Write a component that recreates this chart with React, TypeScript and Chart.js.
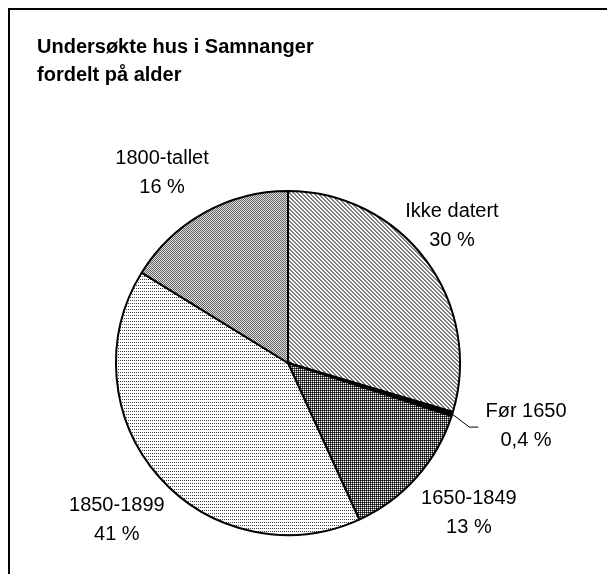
import React, { useEffect, useRef } from "react";
import { Chart, registerables } from "chart.js";

Chart.register(...registerables);

const categories = ["Ikke datert", "Før 1650", "1650-1849", "1850-1899", "1800-tallet"];
const shares = [29.6, 0.4, 13.2, 40.6, 16.2];
const shareLabels = ["30 %", "0,4 %", "13 %", "41 %", "16 %"];
const titleLines = ["Undersøkte hus i Samnanger", "fordelt på alder"];

function makePattern(size: [number, number], draw: (x: number, y: number) => string | null): CanvasPattern | string {
  const c = document.createElement("canvas");
  c.width = size[0];
  c.height = size[1];
  const ctx = c.getContext("2d");
  if (!ctx) return "#aaa";
  for (let y = 0; y < size[1]; y++) {
    for (let x = 0; x < size[0]; x++) {
      const col = draw(x, y);
      if (col) {
        ctx.fillStyle = col;
        ctx.fillRect(x, y, 1, 1);
      }
    }
  }
  const p = ctx.createPattern(c, "repeat");
  return p || "#aaa";
}

// label layout: angle (deg clockwise from top) and distance as a factor of the outer radius
const labelLayout = [
  { angle: 50.2, dist: 1.241 },
  { angle: 104.9, dist: 1.432 },
  { angle: 129.6, dist: 1.365 },
  { angle: 227.4, dist: 1.352 },
  { angle: 326.4, dist: 1.323 },
];

const decorPlugin = {
  id: "decor",
  afterDraw(chart: any) {
    const ctx = chart.ctx;
    ctx.save();
    // frame
    ctx.strokeStyle = "#000";
    ctx.lineWidth = 2;
    ctx.beginPath();
    ctx.moveTo(9, 574);
    ctx.lineTo(9, 9);
    ctx.lineTo(607, 9);
    ctx.stroke();
    // title
    ctx.fillStyle = "#000";
    ctx.font = "bold 20px 'Liberation Sans', Arial, sans-serif";
    ctx.textAlign = "left";
    ctx.textBaseline = "middle";
    titleLines.forEach((t, i) => ctx.fillText(t, 37, 47 + i * 28));

    // slice labels
    const meta = chart.getDatasetMeta(0);
    ctx.font = "20px 'Liberation Sans', Arial, sans-serif";
    ctx.textAlign = "center";
    meta.data.forEach((arc: any, i: number) => {
      const { x, y, outerRadius, startAngle, endAngle } = arc.getProps(
        ["x", "y", "outerRadius", "startAngle", "endAngle"],
        true
      );
      const lay = labelLayout[i];
      const a = (lay.angle * Math.PI) / 180;
      const cx = x + Math.sin(a) * outerRadius * lay.dist;
      const cy = y - Math.cos(a) * outerRadius * lay.dist;
      ctx.fillText(categories[i], cx, cy - 14.5);
      ctx.fillText(shareLabels[i], cx, cy + 14.5);
      if (shares[i] < 1) {
        const mid = (startAngle + endAngle) / 2;
        const sx = x + Math.cos(mid) * outerRadius;
        const sy = y + Math.sin(mid) * outerRadius;
        ctx.strokeStyle = "#000";
        ctx.lineWidth = 1;
        ctx.beginPath();
        ctx.moveTo(sx, sy);
        ctx.lineTo(sx + 17, sy + 13);
        ctx.lineTo(sx + 26, sy + 13);
        ctx.stroke();
      }
    });
    ctx.restore();
  },
};

export default function App() {
  const ref = useRef<HTMLCanvasElement | null>(null);
  useEffect(() => {
    if (!ref.current) return;
    const fills = [
      makePattern([4, 4], (x, y) => ((((x - y) % 4) + 4) % 4 < 2 ? "#7c7c7c" : "#ffffff")),
      "#000000",
      makePattern([2, 2], (x, y) => (x === 0 && y === 0 ? "#000000" : x === 1 && y === 1 ? "#ffffff" : "#505050")),
      makePattern([2, 3], (x, y) => (x === 0 && y === 0 ? "#404040" : "#ffffff")),
      makePattern([2, 2], (x, y) => ((x + y) % 2 === 0 ? "#666666" : "#dedede")),
    ];
    const chart = new Chart(ref.current, {
      type: "pie",
      data: {
        labels: categories,
        datasets: [
          {
            data: shares,
            backgroundColor: fills as any,
            borderColor: "#000000",
            borderWidth: 2,
          },
        ],
      },
      options: {
        responsive: false,
        animation: false,
        layout: { padding: { left: 115, right: 146, top: 190, bottom: 38 } },
        plugins: {
          legend: { display: false },
          tooltip: { enabled: false },
          title: { display: false },
        },
      },
      plugins: [decorPlugin],
    });
    return () => chart.destroy();
  }, []);
  return (
    <div style={{ position: "absolute", left: 0, top: 0, width: 607, height: 574, background: "#fff" }}>
      <canvas ref={ref} width={607} height={574} style={{ display: "block" }} />
    </div>
  );
}
